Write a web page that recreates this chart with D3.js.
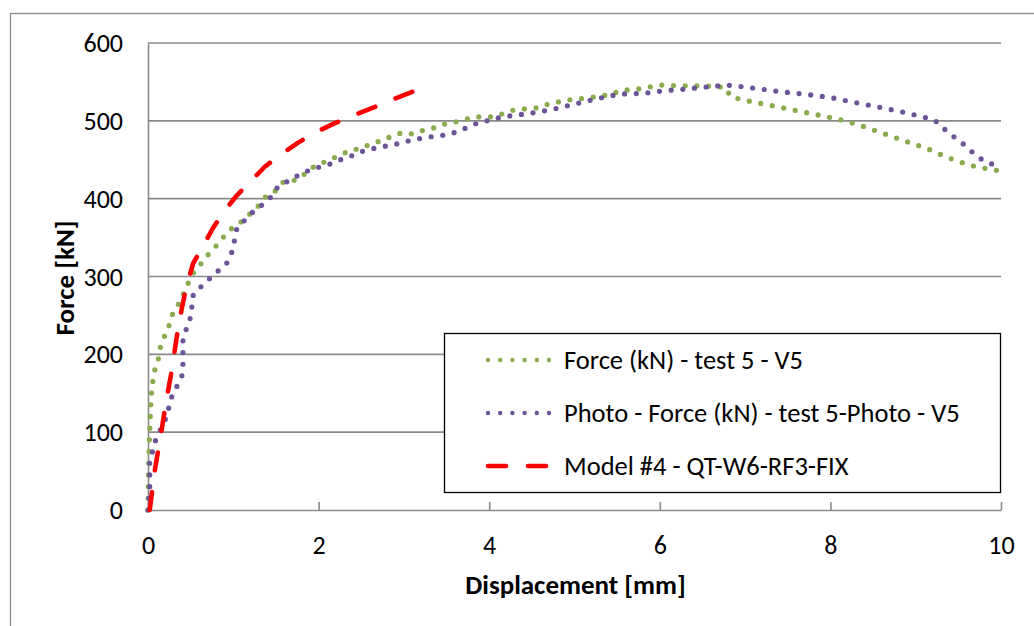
<!DOCTYPE html>
<html>
<head>
<meta charset="utf-8">
<script src="https://cdn.jsdelivr.net/npm/d3@7"></script>
<style>
  html, body { margin: 0; padding: 0; background: #fff; }
  svg { display: block; }
  text { font-family: Carlito, Calibri, "Liberation Sans", Arial, sans-serif; fill: #000; }
</style>
</head>
<body>
<svg id="chart" width="1034" height="626"></svg>
<script>
// Force test 5 (V5)
const testDisp = [0, 0.003, 0.006, 0.01, 0.02, 0.03, 0.045, 0.08, 0.12, 0.15, 0.2, 0.25, 0.28, 0.375, 0.47, 0.51, 0.58, 0.67, 0.805, 0.955, 1.04, 1.16, 1.275, 1.39, 1.51, 1.59, 1.70, 1.80, 1.88, 1.98, 2.09, 2.21, 2.39, 2.49, 2.60, 2.78, 2.88, 3.0, 3.11, 3.23, 3.33, 3.43, 3.54, 3.70, 3.81, 4.03, 4.13, 4.24, 4.46, 4.60, 4.70, 4.94, 5.19, 5.44, 5.53, 5.76, 6.0, 6.23, 6.50, 6.77, 6.83, 6.97, 7.25, 7.51, 7.79, 8.06, 8.33, 8.59, 8.85, 9.12, 9.37, 9.63, 9.90, 10];
const testForce = [0, 20, 45, 70, 100, 130, 158, 180, 193, 212, 225, 238, 250, 268, 291, 302, 310, 324, 340, 360, 365, 377, 388, 404, 411, 422, 423, 428, 437, 443, 448, 454, 463, 464, 470, 476, 482, 485, 483, 488, 490, 495, 497, 501, 505, 505, 508, 513, 516, 517, 522, 527, 530, 534, 539, 541, 546, 545, 545, 543, 531, 527, 521, 515, 509, 503, 495, 485, 475, 465, 453, 443, 437, 436];

// Photo measurement, test 5 (V5)
const photoDisp = [0, 0.01, 0.02, 0.02, 0.09, 0.21, 0.28, 0.34, 0.40, 0.41, 0.41, 0.45, 0.50, 0.53, 0.63, 0.73, 0.83, 0.93, 0.99, 1.04, 1.14, 1.23, 1.35, 1.45, 1.52, 1.76, 1.90, 2.02, 2.15, 2.28, 2.41, 2.54, 2.67, 2.81, 2.95, 3.08, 3.22, 3.35, 3.49, 3.63, 3.75, 3.88, 4.02, 4.15, 4.29, 4.43, 4.56, 4.70, 4.84, 4.97, 5.10, 5.24, 5.38, 5.51, 5.65, 5.79, 5.93, 6.07, 6.21, 6.34, 6.48, 6.62, 6.76, 6.89, 7.17, 7.45, 7.72, 8.0, 8.27, 8.55, 8.82, 9.09, 9.22, 9.32, 9.43, 9.54, 9.64, 9.75, 9.87, 10];
const photoForce = [0, 15, 30, 62, 90, 118, 146, 159, 173, 188, 218, 233, 248, 276, 288, 298, 308, 318, 333, 361, 373, 383, 393, 403, 415, 430, 437, 441, 445, 451, 456, 462, 465, 468, 471, 475, 478, 480, 482, 486, 492, 498, 501, 505, 507, 509, 511, 514, 517, 521, 524, 528, 531, 534, 535, 535, 537, 539, 540, 541, 543, 544, 546, 545, 541, 537, 534, 530, 524, 518, 512, 505, 501, 491, 481, 472, 462, 452, 445, 443];

// Model #4 - QT-W6-RF3-FIX
const modelDisp = [0.02, 0.08, 0.12, 0.16, 0.20, 0.24, 0.28, 0.32, 0.36, 0.40, 0.45, 0.53, 0.63, 0.75, 0.88, 1.04, 1.20, 1.37, 1.55, 1.76, 1.98, 2.19, 2.41, 2.64, 2.86, 3.09, 3.18];
const modelForce = [0, 51, 77, 103, 131, 156, 180, 210, 238, 261, 287, 317, 336, 360, 382, 404, 422, 441, 456, 472, 486, 497, 507, 517, 527, 537, 540];

const xTicks = [0, 2, 4, 6, 8, 10];
const yTicks = [0, 100, 200, 300, 400, 500, 600];
const seriesNames = ["Force (kN) - test 5 - V5", "Photo - Force (kN) - test 5-Photo - V5", "Model #4 - QT-W6-RF3-FIX"];

const svg = d3.select("#chart");
const plotLeft = 148, plotRight = 1001, plotTop = 43, plotBottom = 510;

const x = d3.scaleLinear().domain([0, 10]).range([plotLeft, plotRight]);
const y = d3.scaleLinear().domain([0, 600]).range([plotBottom, plotTop]);

const gridColor = "#8a8a8a";
const tickFont = 26;
const legendFont = 26.5;
const titleFont = 27;

// chart frame
svg.append("rect")
  .attr("x", 10.5).attr("y", 13.5).attr("width", 1040).attr("height", 640)
  .attr("fill", "none").attr("stroke", "#8c8c8c").attr("stroke-width", 1.3);

// horizontal gridlines
svg.append("g")
  .selectAll("line").data(yTicks.filter(d => d > 0)).join("line")
  .attr("x1", plotLeft).attr("x2", plotRight)
  .attr("y1", d => y(d)).attr("y2", d => y(d))
  .attr("stroke", gridColor).attr("stroke-width", 1.6);

// y axis
const yAxis = svg.append("g")
  .attr("transform", `translate(${plotLeft},0)`)
  .call(d3.axisLeft(y).tickValues(yTicks).tickSize(0).tickPadding(25).tickFormat(d3.format("d")));
yAxis.select(".domain").attr("stroke", gridColor).attr("stroke-width", 1.6);
yAxis.selectAll("text").attr("font-size", tickFont).attr("font-family", null).attr("dy", "0.33em");

// x axis with ticks pointing into the plot
const xAxis = svg.append("g")
  .attr("transform", `translate(0,${plotBottom})`)
  .call(d3.axisBottom(x).tickValues(xTicks).tickSizeInner(-8).tickSizeOuter(0).tickPadding(0).tickFormat(d3.format("d")));
xAxis.select(".domain").attr("stroke", gridColor).attr("stroke-width", 1.6);
xAxis.selectAll(".tick line").attr("stroke", gridColor).attr("stroke-width", 1.6);
xAxis.selectAll("text").attr("font-size", tickFont).attr("font-family", null)
  .attr("y", 43.5).attr("dy", 0);

// axis titles
svg.append("text")
  .attr("x", (plotLeft + plotRight) / 2 + 1).attr("y", 593.5)
  .attr("text-anchor", "middle").attr("font-size", titleFont).attr("font-weight", "bold")
  .text("Displacement [mm]");
svg.append("text")
  .attr("transform", "translate(73.5,278) rotate(-90)")
  .attr("text-anchor", "middle").attr("font-size", titleFont).attr("font-weight", "bold")
  .text("Force [kN]");

// series styles
const styles = [
  { color: "#8aab4e", width: 5.2, dash: "0 11.7", cap: "round" },
  { color: "#6c5499", width: 5.2, dash: "0 11.7", cap: "round" },
  { color: "#ff0000", width: 4.6, dash: "18 22", cap: "round" }
];
const seriesData = [
  d3.zip(testDisp, testForce),
  d3.zip(photoDisp, photoForce),
  d3.zip(modelDisp, modelForce)
];

const line = d3.line().x(d => x(d[0])).y(d => y(d[1]));

const plot = svg.append("g");
seriesData.forEach((pts, i) => {
  plot.append("path")
    .datum(pts)
    .attr("d", line)
    .attr("fill", "none")
    .attr("stroke", styles[i].color)
    .attr("stroke-width", styles[i].width)
    .attr("stroke-dasharray", styles[i].dash)
    .attr("stroke-linecap", styles[i].cap)
    .attr("stroke-linejoin", "round");
});

// legend
const legend = svg.append("g");
legend.append("rect")
  .attr("x", 444.5).attr("y", 333.5).attr("width", 556).attr("height", 159)
  .attr("fill", "#fff").attr("stroke", "#000").attr("stroke-width", 1.3);
const rowY = [360, 413, 466];
seriesNames.forEach((name, i) => {
  legend.append("line")
    .attr("x1", 488).attr("x2", 550).attr("y1", rowY[i]).attr("y2", rowY[i])
    .attr("stroke", styles[i].color)
    .attr("stroke-width", i < 2 ? 4.4 : 4.6)
    .attr("stroke-dasharray", i < 2 ? "0 12.2" : "18 22")
    .attr("stroke-linecap", "round");
  legend.append("text")
    .attr("x", 564).attr("y", rowY[i] + 8.5)
    .attr("font-size", legendFont)
    .text(name);
});
</script>
</body>
</html>
